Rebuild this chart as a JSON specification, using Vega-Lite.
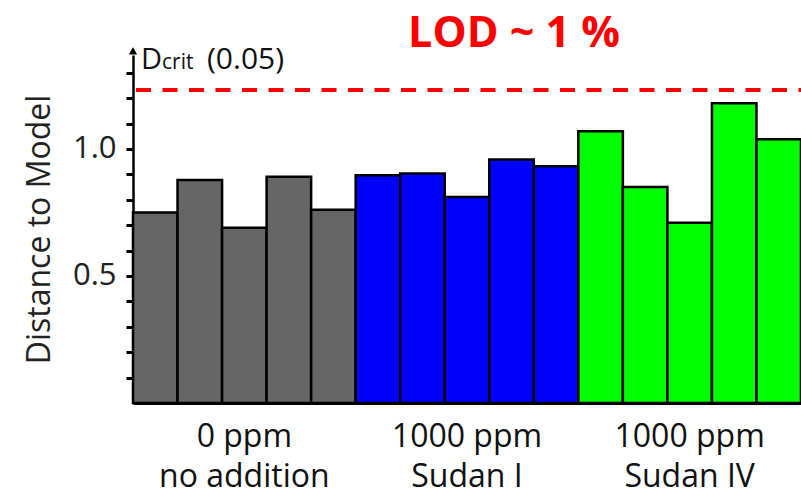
{
  "$schema": "https://vega.github.io/schema/vega-lite/v6.json",
  "width": 668,
  "height": 348,
  "autosize": {"type": "none"},
  "padding": {"left": 133, "top": 55, "right": 0, "bottom": 95},
  "background": "white",
  "config": {"view": {"stroke": null}, "font": "Open Sans"},
  "title": {"text": "LOD ~ 1 %", "color": "#FF0000", "fontSize": 43, "fontWeight": "bold", "font": "Open Sans", "anchor": "middle", "dx": 47, "offset": -11, "frame": "group"},
  "datasets": {
    "bars": [
      {"bar": 1, "group": "0 ppm no addition", "distance": 0.750},
      {"bar": 2, "group": "0 ppm no addition", "distance": 0.878},
      {"bar": 3, "group": "0 ppm no addition", "distance": 0.690},
      {"bar": 4, "group": "0 ppm no addition", "distance": 0.891},
      {"bar": 5, "group": "0 ppm no addition", "distance": 0.761},
      {"bar": 6, "group": "1000 ppm Sudan I", "distance": 0.897},
      {"bar": 7, "group": "1000 ppm Sudan I", "distance": 0.903},
      {"bar": 8, "group": "1000 ppm Sudan I", "distance": 0.811},
      {"bar": 9, "group": "1000 ppm Sudan I", "distance": 0.959},
      {"bar": 10, "group": "1000 ppm Sudan I", "distance": 0.932},
      {"bar": 11, "group": "1000 ppm Sudan IV", "distance": 1.070},
      {"bar": 12, "group": "1000 ppm Sudan IV", "distance": 0.850},
      {"bar": 13, "group": "1000 ppm Sudan IV", "distance": 0.710},
      {"bar": 14, "group": "1000 ppm Sudan IV", "distance": 1.180},
      {"bar": 15, "group": "1000 ppm Sudan IV", "distance": 1.038}
    ],
    "crit": [{"dcrit": 1.232}],
    "arrow": [{"bar": 1, "top": 1.386}],
    "label": [
      {"bar": 1, "y": 1.315, "part": "D", "size": 29, "dx": 8, "dy": 0},
      {"bar": 1, "y": 1.315, "part": "crit", "size": 21, "dx": 29, "dy": 8},
      {"bar": 1, "y": 1.315, "part": "(0.05)", "size": 30, "dx": 74, "dy": 0}
    ]
  },
  "layer": [
    {
      "data": {"name": "bars"},
      "mark": {"type": "bar", "stroke": "black", "strokeWidth": 2.5},
      "encoding": {
        "x": {
          "field": "bar", "type": "ordinal",
          "scale": {"paddingInner": 0, "paddingOuter": 0},
          "axis": {
            "title": null, "ticks": false, "labelAngle": 0,
            "domainColor": "black", "domainWidth": 3,
            "labelExpr": "datum.value == 3 ? ['0 ppm', 'no addition'] : datum.value == 8 ? ['1000 ppm', 'Sudan I'] : datum.value == 13 ? ['1000 ppm', 'Sudan IV'] : ''",
            "labelFontSize": 32, "labelColor": "#111", "labelLineHeight": 40,
            "labelPadding": 18, "labelFont": "Open Sans", "labelOverlap": false
          }
        },
        "y": {
          "field": "distance", "type": "quantitative",
          "scale": {"domain": [0, 1.37], "nice": false, "zero": true},
          "axis": {
            "title": "Distance to Model", "titleFontSize": 32, "titleFontWeight": "normal", "titleColor": "#222",
            "titlePadding": 16, "titleFont": "Open Sans",
            "values": [0.1, 0.2, 0.3, 0.4, 0.5, 0.6, 0.7, 0.8, 0.9, 1.0, 1.1, 1.2, 1.3],
            "tickCount": 30,
            "labelExpr": "abs(datum.value - 0.5) < 0.001 || abs(datum.value - 1) < 0.001 ? format(datum.value, '.1f') : ''",
            "labelFontSize": 31, "labelColor": "#222", "labelPadding": 10, "labelOverlap": false,
            "tickColor": "black", "tickSize": 7, "tickWidth": 3,
            "domainColor": "black", "domainWidth": 2.5, "grid": false
          }
        },
        "color": {
          "field": "group", "type": "nominal",
          "scale": {"domain": ["0 ppm no addition", "1000 ppm Sudan I", "1000 ppm Sudan IV"], "range": ["#666666", "#0000FF", "#00FF00"]},
          "legend": null
        }
      }
    },
    {
      "data": {"name": "crit"},
      "mark": {"type": "rule", "color": "#FF0000", "strokeWidth": 4, "strokeDash": [15, 11.5], "strokeDashOffset": 12.5},
      "encoding": {"y": {"field": "dcrit", "type": "quantitative"}}
    },
    {
      "data": {"name": "arrow"},
      "mark": {"type": "point", "shape": "triangle-up", "filled": true, "color": "black", "size": 70, "opacity": 1},
      "encoding": {
        "x": {"field": "bar", "type": "ordinal", "bandPosition": 0},
        "y": {"field": "top", "type": "quantitative"}
      }
    },
    {
      "data": {"name": "label"},
      "mark": {"type": "text", "align": "left", "baseline": "alphabetic", "color": "#111", "font": "Open Sans"},
      "encoding": {
        "x": {"field": "bar", "type": "ordinal", "bandPosition": 0},
        "y": {"field": "y", "type": "quantitative"},
        "text": {"field": "part"},
        "size": {"field": "size", "type": "quantitative", "scale": null},
        "xOffset": {"field": "dx", "type": "quantitative", "scale": null},
        "yOffset": {"field": "dy", "type": "quantitative", "scale": null}
      }
    }
  ]
}
